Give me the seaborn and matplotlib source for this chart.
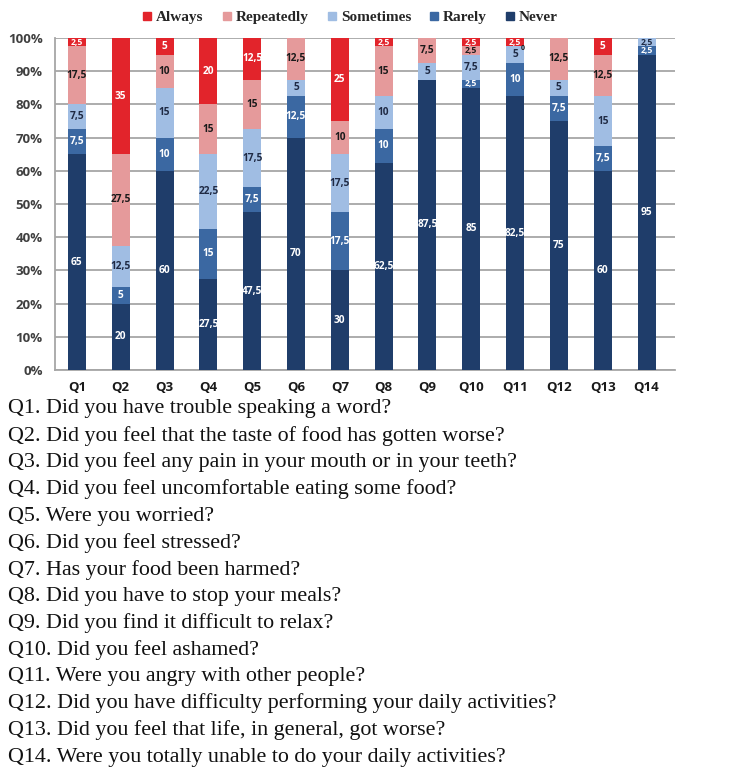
import numpy as np
import pandas as pd
import matplotlib
matplotlib.use("Agg")
import matplotlib.pyplot as plt
from matplotlib.lines import Line2D
import seaborn as sns

# ---- data (percent of respondents) ----
questions = ["Q1", "Q2", "Q3", "Q4", "Q5", "Q6", "Q7", "Q8", "Q9", "Q10", "Q11", "Q12", "Q13", "Q14"]
never      = [65, 20, 60, 27.5, 47.5, 70, 30, 62.5, 87.5, 85, 82.5, 75, 60, 95]
rarely     = [7.5, 5, 10, 15, 7.5, 12.5, 17.5, 10, 0, 2.5, 10, 7.5, 7.5, 2.5]
sometimes  = [7.5, 12.5, 15, 22.5, 17.5, 5, 17.5, 10, 5, 7.5, 5, 5, 15, 2.5]
repeatedly = [17.5, 27.5, 10, 15, 15, 12.5, 10, 15, 7.5, 2.5, 0, 12.5, 12.5, 0]
always     = [2.5, 35, 5, 20, 12.5, 0, 25, 2.5, 0, 2.5, 2.5, 0, 5, 0]
# zero values that are still labelled in the original chart
zero_labels = [("Q11", "Repeatedly")]

series_names = ["Never", "Rarely", "Sometimes", "Repeatedly", "Always"]
legend_order = ["Always", "Repeatedly", "Sometimes", "Rarely", "Never"]

question_texts = [
    "Q1. Did you have trouble speaking a word?",
    "Q2. Did you feel that the taste of food has gotten worse?",
    "Q3. Did you feel any pain in your mouth or in your teeth?",
    "Q4. Did you feel uncomfortable eating some food?",
    "Q5. Were you worried?",
    "Q6. Did you feel stressed?",
    "Q7. Has your food been harmed?",
    "Q8. Did you have to stop your meals?",
    "Q9. Did you find it difficult to relax?",
    "Q10. Did you feel ashamed?",
    "Q11. Were you angry with other people?",
    "Q12. Did you have difficulty performing your daily activities?",
    "Q13. Did you feel that life, in general, got worse?",
    "Q14. Were you totally unable to do your daily activities?",
]

colors = {
    "Never": "#1f3d6a",
    "Rarely": "#3b68a2",
    "Sometimes": "#a0bde3",
    "Repeatedly": "#e59a9b",
    "Always": "#e2242b",
}
label_colors = {
    "Never": "white",
    "Rarely": "white",
    "Sometimes": "#1f2a44",
    "Repeatedly": "#1a1a1a",
    "Always": "white",
}

df = pd.DataFrame({"Question": questions, "Never": never, "Rarely": rarely,
                   "Sometimes": sometimes, "Repeatedly": repeatedly, "Always": always})

W, H = 740, 777
fig = plt.figure(figsize=(W / 100, H / 100), dpi=100)
sns.set_style("white")

ax = fig.add_axes([55 / W, 1 - 370 / H, 620 / W, 332 / H])

bottom = np.zeros(len(questions))
for name in series_names:
    vals = df[name].to_numpy(dtype=float)
    sns.barplot(x=df["Question"], y=vals, bottom=bottom, color=colors[name],
                width=0.41, errorbar=None, ax=ax, saturation=1, zorder=3,
                edgecolor="none", linewidth=0)
    for i, v in enumerate(vals):
        show = v > 0 or (questions[i], name) in zero_labels
        if show:
            txt = ("%g" % v).replace(".", ",")
            xx = i
            yy = bottom[i] + v / 2
            fs = 7.3 if v > 2.5 else 6.2
            if v == 0:
                xx = i + 0.18
                yy = bottom[i] - 0.6
                fs = 5
            ax.text(xx, yy, txt, ha="center", va="center",
                    fontsize=fs, fontweight="bold", family="Open Sans",
                    color=label_colors[name], zorder=5)
    bottom = bottom + vals

ax.set_xlim(-0.5, len(questions) - 0.5 + 0.15)
ax.set_ylim(0, 100)
ax.set_yticks(np.arange(0, 101, 10))
ax.set_yticklabels([f"{t}%" for t in range(0, 101, 10)])
ax.yaxis.grid(True, color="#a6a6a6", lw=1.3, zorder=0)
ax.set_axisbelow(True)
ax.set_xlabel("")
ax.set_ylabel("")
for s in ["top", "right"]:
    ax.spines[s].set_visible(False)
for s in ["left", "bottom"]:
    ax.spines[s].set_color("#a6a6a6")
    ax.spines[s].set_linewidth(1.3)
ax.tick_params(axis="y", length=5, color="#a6a6a6", width=1.3, pad=4, labelcolor="#404040")
ax.tick_params(axis="x", which="major", length=0, pad=8, labelcolor="#1a1a1a")
ax.set_xticks(np.arange(-0.5, len(questions), 1), minor=True)
ax.tick_params(axis="x", which="minor", length=5, color="#a6a6a6", width=1.3)
for lab in ax.get_yticklabels():
    lab.set_fontweight("bold"); lab.set_fontsize(9.5); lab.set_family("Open Sans")
for lab in ax.get_xticklabels():
    lab.set_fontweight("bold"); lab.set_fontsize(9.5); lab.set_family("Open Sans")

handles = [Line2D([0], [0], marker="s", linestyle="none", markersize=5.5,
                  markerfacecolor=colors[n], markeredgecolor=colors[n]) for n in legend_order]
fig.legend(handles, legend_order, loc="center", bbox_to_anchor=(348 / W, 1 - 17 / H),
           ncol=5, frameon=False, handletextpad=0.0, columnspacing=0.9, handlelength=1.2,
           prop={"family": "Liberation Serif", "weight": "bold", "size": 11})

y0, dy = 409, 26.77
for k, t in enumerate(question_texts):
    fig.text(8 / W, 1 - (y0 + k * dy) / H, t, ha="left", va="center",
             family="Liberation Serif", fontsize=15.8, color="#111111")

fig.savefig("out.png", dpi=100)
